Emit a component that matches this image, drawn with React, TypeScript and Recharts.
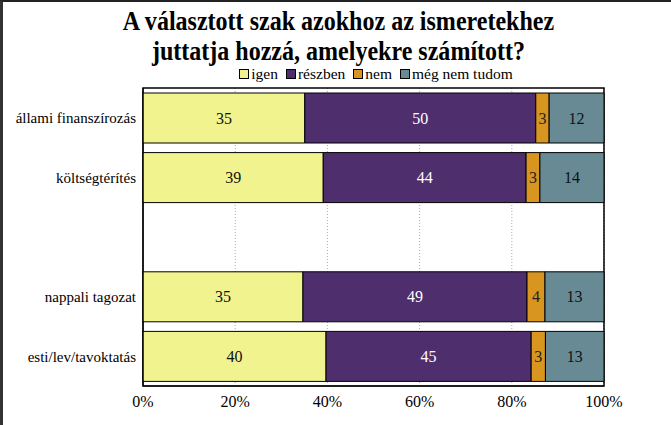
import { Bar, BarChart, CartesianGrid, LabelList, ReferenceArea, XAxis, YAxis } from "recharts";

const categories = ["állami finanszírozás", "költségtérítés", "", "nappali tagozat", "esti/lev/tavoktatás"];
const igen = [35.1, 39.1, null, 34.7, 39.7];
const reszben = [50.1, 44.0, null, 48.6, 44.5];
const nem = [2.9, 3.0, null, 3.9, 3.1];
const megNemTudom = [11.9, 13.9, null, 12.8, 12.7];
const xTicks = [0, 20, 40, 60, 80, 100];

const series = [
  { key: "igen", name: "igen", color: "#f1f48e", text: "#111" },
  { key: "reszben", name: "részben", color: "#4f2e6d", text: "#fff" },
  { key: "nem", name: "nem", color: "#d8951f", text: "#222" },
  { key: "megNemTudom", name: "még nem tudom", color: "#678a95", text: "#111" },
];

const data = categories.map((name, i) => ({
  name,
  igen: igen[i],
  reszben: reszben[i],
  nem: nem[i],
  megNemTudom: megNemTudom[i],
}));

const serif = "Liberation Serif";

export default function App() {
  return (
    <div
      style={{
        position: "absolute",
        left: 0,
        top: 0,
        width: 671,
        height: 425,
        background: "#fff",
        fontFamily: serif,
        borderTop: "2px solid #222",
        borderLeft: "3px solid #333",
        boxSizing: "border-box",
      }}
    >
      <style>{`.chart-wrap svg text { font-family: "Liberation Serif"; }`}</style>
      <div
        style={{
          position: "absolute",
          left: 0,
          top: 4,
          width: 671,
          textAlign: "center",
          fontWeight: "bold",
          fontSize: 27,
          lineHeight: "30px",
          transform: "scaleX(0.89)",
          color: "#000",
        }}
      >
        A választott szak azokhoz az ismeretekhez
        <br />
        juttatja hozzá, amelyekre számított?
      </div>
      <div
        style={{
          position: "absolute",
          left: 140,
          width: 474,
          top: 63,
          display: "flex",
          justifyContent: "center",
          alignItems: "center",
          fontSize: 15.5,
          color: "#000",
        }}
      >
        {series.map((s) => (
          <span key={s.key} style={{ display: "flex", alignItems: "center", marginRight: 8 }}>
            <span
              style={{
                display: "inline-block",
                width: 8,
                height: 8,
                background: s.color,
                border: "1px solid #000",
                marginRight: 2,
              }}
            />
            {s.name}
          </span>
        ))}
      </div>
      <div className="chart-wrap" style={{ position: "absolute", left: -3, top: -2 }}>
        <BarChart
          width={671}
          height={425}
          data={data}
          layout="vertical"
          margin={{ top: 88, right: 67, left: 0, bottom: 9 }}
        >
          <CartesianGrid horizontal={false} stroke="#aaa" strokeDasharray="1 2" />
          <XAxis
            type="number"
            domain={[0, 100]}
            ticks={xTicks}
            tickFormatter={(v) => `${v}%`}
            axisLine={{ stroke: "#000" }}
            tickLine={false}
            tickSize={6}
            tickMargin={4}
            height={30}
            tick={{ fill: "#000", fontSize: 16, fontFamily: serif }}
          />
          <YAxis
            type="category"
            dataKey="name"
            width={143}
            axisLine={{ stroke: "#000" }}
            tickLine={false}
            tickSize={6}
            tickMargin={1}
            tick={{ fill: "#000", fontSize: 15, fontFamily: serif }}
          />
          <ReferenceArea x1={0} x2={100} fill="none" stroke="#000" strokeWidth={1.5} />
          {series.map((s) => (
            <Bar
              key={s.key}
              dataKey={s.key}
              name={s.name}
              stackId="a"
              fill={s.color}
              stroke="#000"
              strokeWidth={1}
              barSize={50}
              isAnimationActive={false}
            >
              <LabelList
                dataKey={s.key}
                position="center"
                formatter={(v: any) => (v == null ? "" : Math.round(v))}
                style={{ fill: s.text, fontSize: 16, fontFamily: serif }}
              />
            </Bar>
          ))}
        </BarChart>
      </div>
    </div>
  );
}
